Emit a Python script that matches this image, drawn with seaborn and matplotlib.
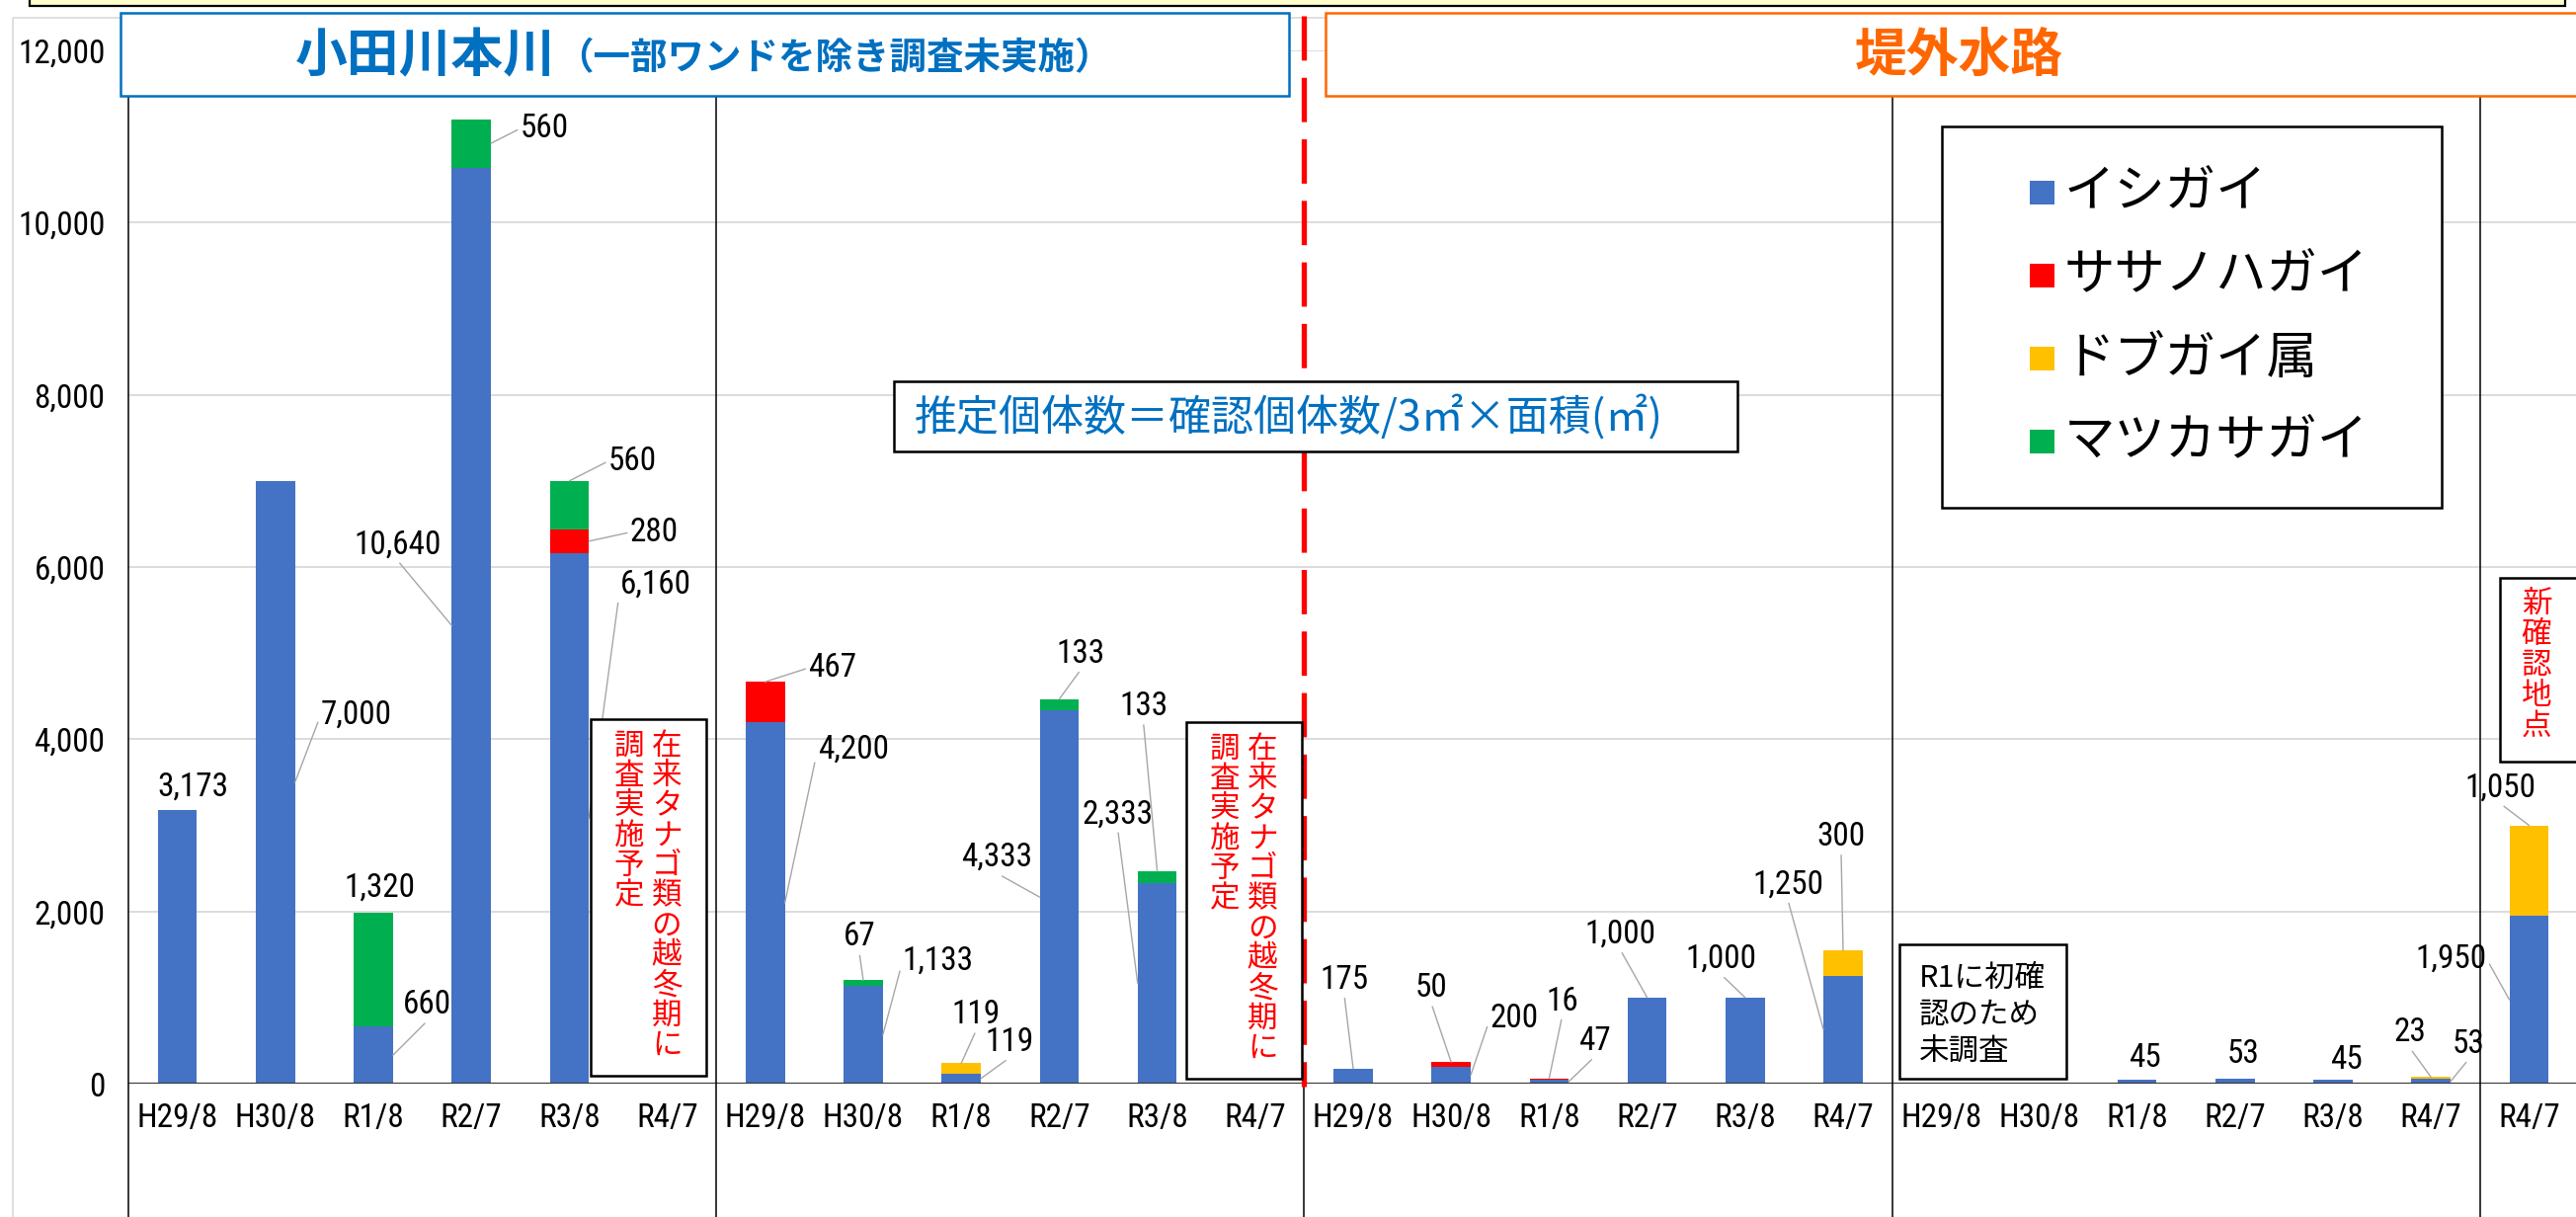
import matplotlib
matplotlib.use("Agg")
import matplotlib.pyplot as plt
from matplotlib import font_manager as fm
from matplotlib.patches import Rectangle
from matplotlib.transforms import blended_transform_factory
import pandas as pd
import seaborn as sns

# ---------------- data ----------------
categories = ["H29/8", "H30/8", "R1/8", "R2/7", "R3/8", "R4/7"] * 4 + ["R4/7"]
group_sizes = [6, 6, 6, 6, 1]
series_names = ["イシガイ", "ササノハガイ", "ドブガイ属", "マツカサガイ"]
series_colors = ["#4472C4", "#FF0000", "#FFC000", "#00B050"]
ishigai = [3173, 7000, 660, 10640, 6160, 0,
           4200, 1133, 119, 4333, 2333, 0,
           175, 200, 47, 1000, 1000, 1250,
           0, 0, 45, 53, 45, 53,
           1950]
sasanoha = [0, 0, 0, 0, 280, 0,
            467, 0, 0, 0, 0, 0,
            0, 50, 16, 0, 0, 0,
            0, 0, 0, 0, 0, 0,
            0]
dobugai = [0, 0, 0, 0, 0, 0,
           0, 0, 119, 0, 0, 0,
           0, 0, 0, 0, 0, 300,
           0, 0, 0, 0, 0, 23,
           1050]
matsukasa = [0, 0, 1320, 560, 560, 0,
             0, 67, 0, 133, 133, 0,
             0, 0, 0, 0, 0, 0,
             0, 0, 0, 0, 0, 0,
             0]
yticks = [0, 2000, 4000, 6000, 8000, 10000, 12000]

title_main = "小田川本川"
title_main_note = "（一部ワンドを除き調査未実施）"
title_ditch = "堤外水路"
formula_text = "推定個体数＝確認個体数/3㎡×面積(㎡)"
note_winter_a = "在来タナゴ類の越冬期に"
note_winter_b = "調査実施予定"
note_new = "新確認地点"
note_r1 = ["R1に初確", "認のため", "未調査"]

# label layout: (category, series, anchor, dx_px, dy_px, leader attach side)
label_layout = [
    (0, 0, 'N', 16, 24, 'b'), (1, 0, 'R', 62, 68, 'l'), (2, 0, 'R', 35, 51, 'b'),
    (2, 3, 'N', 6, 26, 'b'),
    (3, 0, 'L', -55, 82, 'b'), (3, 3, 'R', 54, 15, 'l'), (4, 0, 'R', 68, 237, 'l'),
    (4, 1, 'R', 66, 9, 'l'), (4, 3, 'T', 64, 20, 'l'),
    (6, 0, 'R', 69, 155, 'l'), (6, 1, 'T', 68, 14, 'l'), (7, 0, 'R', 56, 75, 'l'),
    (7, 3, 'T', -4, 44, 'b'),
    (8, 0, 'R', 29, 37, 'b'), (8, 2, 'T', 15, 49, 'b'), (9, 0, 'L', -43, 40, 'b'),
    (9, 3, 'T', 22, 46, 'b'),
    (10, 0, 'L', -20, 171, 'b'), (10, 3, 'T', -14, 167, 'b'),
    (12, 0, 'T', -9, 90, 'b'), (13, 0, 'R', 44, 57, 'l'), (13, 1, 'T', -20, 75, 'b'),
    (14, 0, 'R', 26, 41, 'b'),
    (14, 1, 'T', 13, 78, 'b'), (15, 0, 'T', -27, 64, 'b'), (16, 0, 'T', -24, 39, 'b'),
    (17, 0, 'L', -36, 147, 'b'), (17, 2, 'T', -2, 115, 'b'),
    (20, 0, 'N', 8, 22, 'b'), (21, 0, 'N', 8, 25, 'b'), (22, 0, 'N', 13, 20, 'b'),
    (23, 0, 'R', 18, 38, 'b'),
    (23, 2, 'T', -21, 45, 'b'), (24, 0, 'L', -59, 41, 'r'), (24, 2, 'T', -29, 38, 'b'),
]

# ---------------- fonts ----------------
names = {f.name for f in fm.fontManager.ttflist}
if "Liberation Sans Narrow" in names:
    NUM_FONT, NS = "Liberation Sans Narrow", 1.0
elif "Roboto Condensed" in names:
    NUM_FONT, NS = "Roboto Condensed", 0.92
else:
    NUM_FONT, NS = "DejaVu Sans", 0.8
JP = ["Noto Sans CJK JP", "DejaVu Sans"]

# ---------------- figure ----------------
W, H = 2608, 1232
fig = plt.figure(figsize=(W / 100, H / 100), dpi=100)
fig.patch.set_facecolor("white")
AX_L, AX_B, AX_T = 130, 1097, 51
ax = fig.add_axes([AX_L / W, (H - AX_B) / H, (W - AX_L) / W, (AX_B - AX_T) / H])

series = [ishigai, sasanoha, dobugai, matsukasa]
n = len(categories)
idx = list(range(n))
cum = []
run = [0] * n
for s in series:
    run = [a + b for a, b in zip(run, s)]
    cum.append(run)

df = pd.DataFrame({"idx": idx})
for k in range(len(series) - 1, -1, -1):
    df["v"] = cum[k]
    sns.barplot(data=df, x="idx", y="v", color=series_colors[k], saturation=1,
                width=0.4, errorbar=None, ax=ax, zorder=2, linewidth=0)

cat_w = 99.2
ax.set_xlim(-0.5, -0.5 + (W - AX_L) / cat_w)
ax.set_ylim(0, 12000)
ax.set_xlabel("")
ax.set_ylabel("")
for sp in ax.spines.values():
    sp.set_visible(False)
ax.set_yticks(yticks)
ax.set_yticklabels([f"{v:,}" for v in yticks], fontsize=26 * NS, fontfamily=NUM_FONT)
ax.set_xticks(idx)
ax.set_xticklabels(categories, fontsize=26 * NS, fontfamily=NUM_FONT)
ax.tick_params(axis="both", length=0)
ax.tick_params(axis="y", pad=17)
ax.tick_params(axis="x", pad=14)
ax.yaxis.grid(True, color="#D9D9D9", lw=1.3)
ax.set_axisbelow(True)
ax.axhline(0, color="#3a3a3a", lw=1.6, zorder=3)

# data labels with leader lines
relpos_map = {'l': (0.0, 0.5), 'r': (1.0, 0.5), 'b': (0.5, 0.0)}
for (c, si, anc, dx, dy, side) in label_layout:
    v = series[si][c]
    bottom = cum[si - 1][c] if si > 0 else 0
    top = cum[si][c]
    if anc == 'R':
        xy = (c + 0.2, (bottom + top) / 2)
    elif anc == 'L':
        xy = (c - 0.2, (bottom + top) / 2)
    else:
        xy = (c, top)
    kw = dict(xycoords="data", textcoords="offset pixels", ha="center", va="center",
              fontsize=26 * NS, fontfamily=NUM_FONT, color="black", zorder=5)
    if anc != 'N':
        kw["arrowprops"] = dict(arrowstyle="-", color="#A6A6A6", lw=1.0, shrinkA=0,
                                shrinkB=0, relpos=relpos_map[side])
    ax.annotate(f"{v:,}", xy=xy, xytext=(dx, dy), **kw)

# ---------------- overlay in pixel coordinates ----------------
ov = fig.add_axes([0, 0, 1, 1], zorder=10)
ov.set_xlim(0, W)
ov.set_ylim(H, 0)
ov.axis("off")

# top yellow strip (bottom of a text box above) and chart-area border
ov.add_patch(Rectangle((30, -20), 2567, 26, fc="#FFFFCC", ec="black", lw=1.6, zorder=1))
ov.add_patch(Rectangle((13, 18), 3000, 3000, fc="none", ec="#D9D9D9", lw=1.2, zorder=1))

# group separators (category-axis multi-level lines)
tr = blended_transform_factory(ax.transData, ov.transData)
bounds = []
acc = 0
for g in group_sizes[:-1]:
    acc += g
    bounds.append(acc - 0.5)
red_bound = sum(group_sizes[:2]) - 0.5
for b in [-0.5] + bounds:
    if b == red_bound:
        ov.plot([b, b], [AX_B, H], color="black", lw=1.1, transform=tr, clip_on=False, zorder=1)
    else:
        ov.plot([b, b], [97, H], color="black", lw=1.1, transform=tr, clip_on=False, zorder=1)
ov.plot([red_bound, red_bound], [16, 1100], color="#FF0000", lw=3.8, transform=tr,
        clip_on=False, zorder=1.5, dashes=(8.5, 3.3))

# title boxes
ov.add_patch(Rectangle((122, 13), 1183, 84, fc="white", ec="#0070C0", lw=1.8, zorder=2))
ov.text(563, 57, title_main, ha="right", va="center", fontsize=38, fontweight="bold",
        color="#0070C0", family=JP, zorder=3)
ov.text(563, 59, title_main_note, ha="left", va="center", fontsize=27, fontweight="bold",
        color="#0070C0", family=JP, zorder=3)
ov.add_patch(Rectangle((1342, 13), 1400, 84, fc="white", ec="#FF6600", lw=1.8, zorder=2))
ov.text(1983, 56, title_ditch, ha="center", va="center", fontsize=38, fontweight="bold",
        color="#FF6600", family=JP, zorder=3)

# formula box
ov.add_patch(Rectangle((905, 386), 854, 71, fc="white", ec="black", lw=1.8, zorder=2))
ov.text(926, 423, formula_text, ha="left", va="center", fontsize=31, color="#0070C0",
        family=JP, zorder=3)

# legend
ov.add_patch(Rectangle((1966, 128), 506, 386, fc="white", ec="black", lw=1.8, zorder=2))
for i, (nm, col) in enumerate(zip(series_names, series_colors)):
    cy = 195 + i * 84
    ov.add_patch(Rectangle((2055, cy - 12), 25, 24, fc=col, ec="none", zorder=3))
    ov.text(2090, cy, nm, ha="left", va="center", fontsize=37, color="black", family=JP, zorder=3)


def vtext(x, y0, s, pitch, color):
    for i, ch in enumerate(s):
        ov.text(x, y0 + pitch * (i + 0.5), ch, ha="center", va="center", fontsize=22,
                color=color, family=JP, zorder=3)


# vertical note boxes
for bx, by in [(598, 728), (1201, 731)]:
    ov.add_patch(Rectangle((bx, by), 117, 361, fc="white", ec="black", lw=1.8, zorder=2))
    vtext(bx + 77, by + 12, note_winter_a, 30.3, "#FF0000")
    vtext(bx + 39, by + 12, note_winter_b, 30.3, "#FF0000")

ov.add_patch(Rectangle((2531, 585), 200, 186, fc="white", ec="black", lw=1.8, zorder=2))
vtext(2568, 596, note_new, 31, "#FF0000")

# R1 note box
ov.add_patch(Rectangle((1923, 956), 169, 136, fc="white", ec="black", lw=1.8, zorder=2))
for i, line in enumerate(note_r1):
    ov.text(1943, 990 + 37 * i, line, ha="left", va="center", fontsize=22, color="black",
            family=JP, zorder=3)

fig.savefig("out.png", dpi=100, facecolor="white")
